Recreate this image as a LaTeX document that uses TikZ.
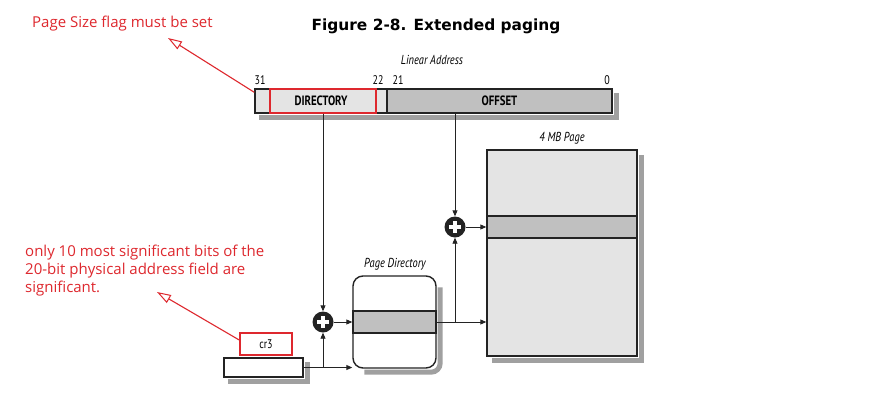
\documentclass[tikz,border=0pt]{standalone}
\usepackage{fontspec}
\setmainfont{Open Sans}
\newfontfamily\titlefont{DejaVu Sans}
\newfontfamily\cond[FakeStretch=0.8]{PT Sans}
\usetikzlibrary{arrows.meta,calc}
\definecolor{anno}{RGB}{222,40,46}
\definecolor{lightg}{RGB}{228,228,228}
\definecolor{midg}{RGB}{192,192,192}
\definecolor{ink}{RGB}{35,35,35}
\definecolor{shadgray}{RGB}{160,160,160}
\tikzset{
  field/.style={draw=ink, line width=1.4pt, minimum height=24pt, inner sep=0pt,
    font=\cond\bfseries\fontsize{13.5}{14}\selectfont},
  redbox/.style={draw=anno, line width=1.6pt, inner sep=0pt},
  lbl/.style={font=\cond\itshape\fontsize{13}{14}\selectfont, inner sep=0pt},
  bitno/.style={font=\cond\fontsize{12.5}{13}\selectfont, inner sep=0pt},
  wire/.style={draw=ink, line width=0.9pt},
  arr/.style={wire, -{Triangle[length=6pt,width=5pt]}},
  note/.style={font=\fontsize{15}{18}\selectfont, text=anno, align=left, inner sep=0pt, anchor=north west},
  annoarrow/.style={draw=anno, line width=1.1pt, -{Triangle[open,length=14pt,width=9pt,line width=1pt]}},
  adder/.style={circle, fill=ink, minimum size=21pt, inner sep=0pt,
    path picture={\draw[white,line width=3.4pt]
      ([xshift=-6pt]path picture bounding box.center) -- ([xshift=6pt]path picture bounding box.center)
      ([yshift=-6pt]path picture bounding box.center) -- ([yshift=6pt]path picture bounding box.center);}},
  shadowline/.style={draw=shadgray, line width=5pt},
}
\begin{document}
\begin{tikzpicture}[x=1pt,y=-1pt]
\path[fill=white] (0,0) rectangle (890,407);
\useasboundingbox (0,0) rectangle (890,407);

% title and notes
\node[font=\titlefont\bfseries\fontsize{15.4}{18}\selectfont, inner sep=0pt] (title) at (436,26) {Figure 2-8. Extended paging};
\node[note] (note1) at (32,16) {Page Size flag must be set};
\node[note] (note2) at (25,245) {only 10 most significant bits of the\\20-bit physical address field are\\significant.};

% linear address
\node[lbl] (lin) at (432,60) {Linear Address};
\node[field, fill=lightg, minimum width=132pt] (dir) at (321,101) {DIRECTORY};
\node[field, fill=midg, minimum width=225pt] (off) at (499.5,101) {OFFSET};
\draw[shadowline] ($(off.north east)+(3.5,5)$) -- ($(off.south east)+(3.5,3.5)$) -- ($(dir.south west)+(5,3.5)$);
\node[bitno] (b31) at (260,80) {31};
\node[bitno] (b22) at (378,80) {22};
\node[bitno] (b21) at (398,80) {21};
\node[bitno] (b0) at (607,80) {0};
\node[redbox, minimum width=106pt, minimum height=24pt] (dirred) at (323,101) {};

% 4 MB page
\node[lbl] (pglbl) at (562,138) {4 MB Page};
\node[draw=ink, line width=1.4pt, fill=lightg, minimum width=150pt, minimum height=206pt, inner sep=0pt] (page) at (562,253) {};
\node[draw=ink, line width=1.4pt, fill=midg, minimum width=150pt, minimum height=22pt, inner sep=0pt] (pgstripe) at (562,227) {};
\draw[shadowline] ($(page.north east)+(3.5,6)$) -- ($(page.south east)+(3.5,3.5)$) -- ($(page.south west)+(6,3.5)$);

% page directory
\node[lbl] (pdlbl) at (395,264) {Page Directory};
\node[draw=ink, line width=1.4pt, fill=white, rounded corners=10pt, minimum width=83pt, minimum height=92pt, inner sep=0pt] (pd) at (394.5,322) {};
\node[draw=ink, line width=1.4pt, fill=midg, minimum width=83pt, minimum height=22pt, inner sep=0pt] (pdstripe) at (394.5,322) {};
\draw[shadowline, rounded corners=9pt] ($(pd.north east)+(3.5,12)$) -- ($(pd.south east)+(3.5,3.5)$) -- ($(pd.south west)+(12,3.5)$);

% cr3
\node[draw=ink, line width=1.4pt, fill=white, minimum width=79pt, minimum height=19pt, inner sep=0pt] (cr3reg) at (263.5,367.5) {};
\draw[shadowline] ($(cr3reg.north east)+(3.5,5)$) -- ($(cr3reg.south east)+(3.5,3.5)$) -- ($(cr3reg.south west)+(5,3.5)$);
\node[redbox, minimum width=52pt, minimum height=22pt, font=\cond\fontsize{12.5}{13}\selectfont] (cr3) at (266,344) {cr3};

% adders
\node[adder] (add1) at (455,227) {};
\node[adder] (add2) at (323,322) {};

% connectors
\draw[arr] (add2 |- dir.south) -- (add2);
\draw[arr] (add1 |- off.south) -- (add1);
\draw[arr] (add1) -- (pgstripe.west);
\draw[arr] (add2) -- (pdstripe.west);
\coordinate (j1) at (add1 |- pdstripe.east);
\draw[wire] (pdstripe.east) -- (j1);
\draw[arr] (j1) -- (add1);
\draw[arr] (j1) -- (page.west |- j1);
\coordinate (j2) at (add2 |- cr3reg.east);
\draw[wire] (cr3reg.east) -- (j2);
\draw[arr] (j2) -- (add2);
\draw[arr] (j2) -- (pd.west |- j2);

% annotation arrows
\coordinate (t1) at (168,38);
\coordinate (t2) at (157,292);
\draw[annoarrow] (dir.north west) ++(0,4) -- (t1);
\draw[annoarrow] (cr3.west) ++(0,-4) -- (t2);
\end{tikzpicture}
\end{document}
